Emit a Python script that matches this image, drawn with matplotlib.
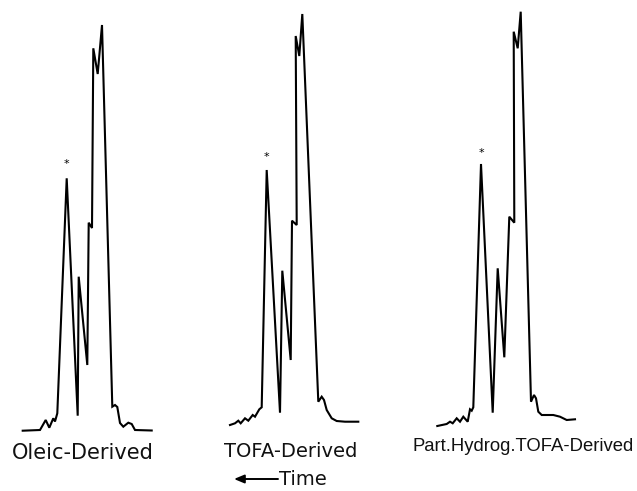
import matplotlib
matplotlib.use("Agg")
import matplotlib.pyplot as plt

# Chromatogram traces (x: position along time axis, y: pen position, downward = lower signal)
oleic_x = [22.7, 40.0, 45.7, 49.3, 53.3, 55.0, 57.3, 66.7, 77.7, 78.7, 87.3, 88.7, 92.0, 93.3, 97.7, 102.0,
           112.3, 115.0, 117.3, 120.0, 123.3, 128.3, 131.7, 135.0, 151.7]
oleic_y = [430.7, 430.0, 420.0, 427.7, 418.3, 421.5, 413.3, 178.3, 415.7, 276.7, 365.0, 222.7, 228.0, 48.3, 74.0, 25.0,
           406.7, 405.0, 407.0, 423.0, 426.7, 422.7, 424.0, 430.0, 430.5]

tofa_x = [230.0, 235.0, 238.3, 240.7, 245.0, 248.3, 252.7, 255.0, 259.3, 261.7, 266.7, 280.0, 282.3, 290.7, 292.0,
          296.7, 295.7, 299.3, 302.3, 318.3, 321.7, 324.0, 326.7, 331.7, 336.7, 345.0, 358.3]
tofa_y = [425.0, 423.3, 420.7, 423.3, 418.3, 420.7, 415.0, 416.7, 409.3, 407.3, 170.0, 412.7, 270.7, 360.0, 220.7,
          225.0, 36.0, 56.0, 14.0, 401.7, 396.7, 400.0, 410.0, 418.3, 421.0, 421.7, 421.7]

hydrog_x = [437.3, 446.7, 450.0, 452.7, 456.7, 460.0, 463.3, 467.7, 470.0, 471.7, 473.3, 481.0, 492.7, 497.7, 504.3,
            509.3, 514.3, 513.7, 517.7, 520.7, 531.0, 534.0, 536.0, 538.3, 541.7, 553.3, 560.0, 566.7, 575.0]
hydrog_y = [426.0, 424.0, 421.7, 423.3, 418.3, 421.7, 416.7, 421.7, 409.3, 410.7, 407.3, 164.0, 412.7, 268.3, 357.3,
            216.7, 222.7, 31.7, 48.3, 11.7, 401.7, 395.0, 398.3, 411.7, 415.0, 415.0, 416.7, 420.0, 419.3]

# Marked peak (asterisk) positions
star_x = [66.7, 266.7, 481.0]
star_y = [164.0, 157.0, 153.0]

labels = ["Oleic-Derived", "TOFA-Derived", "Part.Hydrog.TOFA-Derived"]
label_x = [83.0, 290.5, 523.0]
label_y = [459.0, 457.0, 451.0]

fig = plt.figure(figsize=(6.37, 4.91), dpi=100)
ax = fig.add_axes([0, 0, 1, 1])
ax.set_xlim(0, 637)
ax.set_ylim(491, 0)
ax.axis("off")

for xs, ys in [(oleic_x, oleic_y), (tofa_x, tofa_y), (hydrog_x, hydrog_y)]:
    ax.plot(xs, ys, color="black", lw=1.5, solid_joinstyle="miter")

for sx, sy in zip(star_x, star_y):
    ax.text(sx, sy, "*", ha="center", va="center", fontsize=8, color="black")

fonts = [("DejaVu Sans", 15), ("DejaVu Sans", 14), ("Liberation Sans", 13.3)]
for lab, lx, ly, (fam, fs) in zip(labels, label_x, label_y, fonts):
    ax.text(lx, ly, lab, ha="center", va="baseline", fontsize=fs, family=fam, color="#111111")

ax.annotate("", xy=(234, 479), xytext=(278, 479),
            arrowprops=dict(arrowstyle="-|>,head_length=0.6,head_width=0.25", color="black", lw=1.4,
                            shrinkA=0, shrinkB=0))
ax.text(279, 485, "Time", ha="left", va="baseline", fontsize=14, family="DejaVu Sans", color="#111111")

fig.savefig("out.png", dpi=100)
